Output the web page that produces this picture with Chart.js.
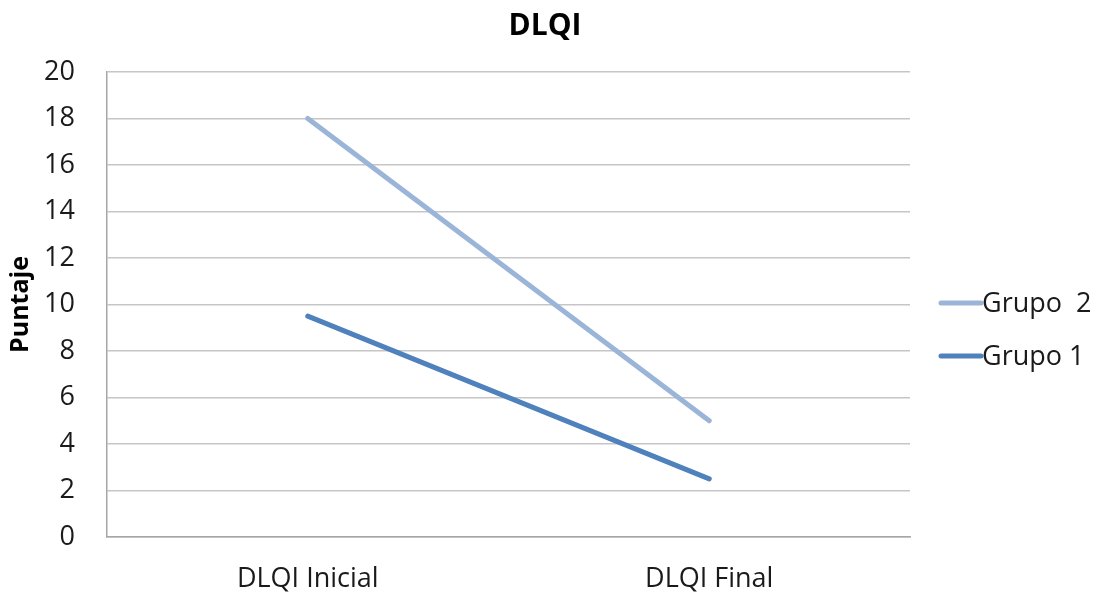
<!DOCTYPE html>
<html>
<head>
<meta charset="utf-8">
<script src="https://cdn.jsdelivr.net/npm/chart.js@4"></script>
<style>
  html, body { margin: 0; padding: 0; background: #ffffff; }
  #wrap { width: 1097px; height: 595px; }
</style>
</head>
<body>
<div id="wrap"><canvas id="c" width="1097" height="595"></canvas></div>
<script>
// Categories and scores per group
const categories = ['DLQI Inicial', 'DLQI Final'];
const grupo1 = [9.5, 2.5];
const grupo2 = [18, 5];
const seriesNames = ['Grupo 1', 'Grupo  2'];
const yTicks = [0, 2, 4, 6, 8, 10, 12, 14, 16, 18, 20];
const chartTitle = 'DLQI';
const yTitle = 'Puntaje';

const FONT = "'Open Sans', 'DejaVu Sans', sans-serif";
const COLOR_G1 = '#4F81BD';
const COLOR_G2 = '#9BB5D8';
const TEXT = '#1a1a1a';

// Title centred over the whole canvas, legend on the right with line samples
const decorations = {
  id: 'decorations',
  afterDraw(chart) {
    const ctx = chart.ctx;
    ctx.save();
    ctx.fillStyle = '#000000';
    ctx.font = 'bold 30px ' + FONT;
    ctx.textAlign = 'center';
    ctx.textBaseline = 'alphabetic';
    ctx.fillText(chartTitle, 545, 35);

    const items = chart.data.datasets.slice().reverse();
    const x0 = 941, lineLen = 40, baseY = 312, gap = 53;
    ctx.font = '27px ' + FONT;
    ctx.textAlign = 'left';
    items.forEach((ds, i) => {
      const y = baseY + i * gap;
      ctx.strokeStyle = ds.borderColor;
      ctx.lineWidth = 5;
      ctx.lineCap = 'round';
      ctx.beginPath();
      ctx.moveTo(x0, y - 9);
      ctx.lineTo(x0 + lineLen, y - 9);
      ctx.stroke();
      ctx.fillStyle = TEXT;
      ctx.fillText(ds.label, x0 + lineLen + 1, y);
    });
    ctx.restore();
  }
};

new Chart(document.getElementById('c'), {
  type: 'line',
  data: {
    labels: categories,
    datasets: [
      {
        label: seriesNames[0],
        data: grupo1,
        borderColor: COLOR_G1,
        backgroundColor: COLOR_G1,
        borderWidth: 5,
        borderCapStyle: 'round',
        pointRadius: 0,
        tension: 0
      },
      {
        label: seriesNames[1],
        data: grupo2,
        borderColor: COLOR_G2,
        backgroundColor: COLOR_G2,
        borderWidth: 5,
        borderCapStyle: 'round',
        pointRadius: 0,
        tension: 0
      }
    ]
  },
  options: {
    responsive: false,
    animation: false,
    devicePixelRatio: 1,
    layout: { padding: { left: 0, right: 187, top: 72, bottom: 0 } },
    plugins: {
      legend: { display: false },
      tooltip: { enabled: false },
      title: { display: false }
    },
    scales: {
      x: {
        offset: true,
        grid: { display: false, drawTicks: false },
        border: { display: true, color: '#A6A6A6', width: 1.5 },
        ticks: {
          color: TEXT,
          font: { family: FONT, size: 27 },
          padding: 26,
          maxRotation: 0
        },
        afterFit(scale) { scale.height = 58; }
      },
      y: {
        min: 0,
        max: 20,
        afterBuildTicks(scale) { scale.ticks = yTicks.map(v => ({ value: v })); },
        grid: { color: '#C6C6C6', lineWidth: 1.5, drawTicks: false },
        border: { display: true, color: '#A6A6A6', width: 1.5 },
        ticks: {
          color: TEXT,
          font: { family: FONT, size: 27 },
          padding: 32
        },
        title: {
          display: true,
          text: yTitle,
          color: '#000000',
          font: { family: FONT, size: 25, weight: 'bold' },
          padding: { top: 6, bottom: 0 }
        },
        afterFit(scale) { scale.width = 107; }
      }
    }
  },
  plugins: [decorations]
});
</script>
</body>
</html>
